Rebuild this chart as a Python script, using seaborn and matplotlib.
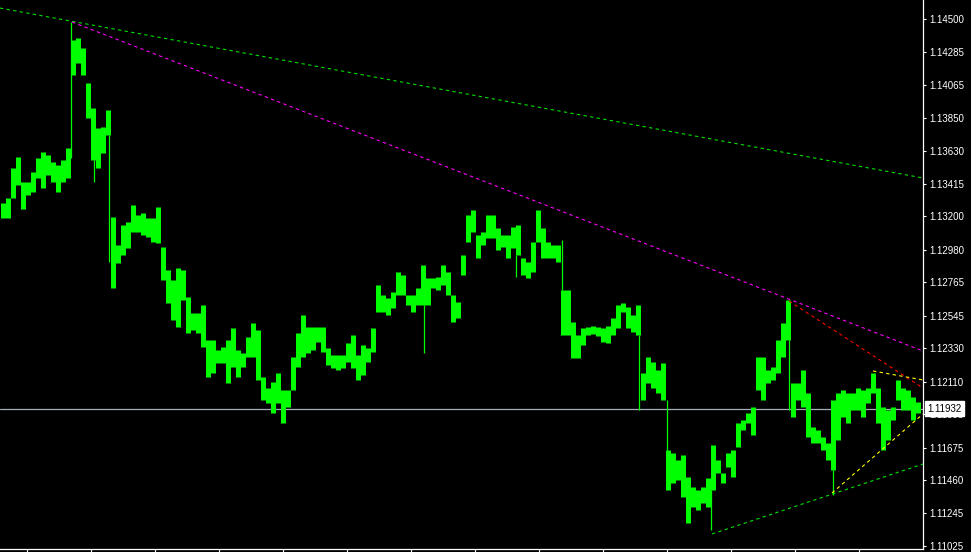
import matplotlib

matplotlib.use("Agg")
import matplotlib.pyplot as plt
import matplotlib.transforms as mtransforms
import numpy as np
import pandas as pd
import seaborn as sns

FONTSIZE = 7
PRICE_GREEN = "#00FF00"

# high / low of each bar (one bar per ~5 px)
bar_high = [
    1.13287, 1.13320, 1.13518, 1.13590, 1.13426, 1.13426, 1.13492, 1.13584, 1.13623, 1.13604,
    1.13557, 1.13538, 1.13571, 1.13650, 1.14361, 1.14375, 1.14309, 1.14078, 1.13913, 1.13781,
    1.13788, 1.13900, 1.13195, 1.13010, 1.13142, 1.13162, 1.13274, 1.13208, 1.13221, 1.13188,
    1.13188, 1.13261, 1.12997, 1.12846, 1.12780, 1.12859, 1.12846, 1.12668, 1.12562, 1.12562,
    1.12615, 1.12384, 1.12384, 1.12318, 1.12338, 1.12384, 1.12463, 1.12318, 1.12299, 1.12404,
    1.12496, 1.12450, 1.12141, 1.12068, 1.12108, 1.12167, 1.12055, 1.12055, 1.12272, 1.12431,
    1.12549, 1.12470, 1.12470, 1.12470, 1.12470, 1.12332, 1.12286, 1.12286, 1.12286, 1.12365,
    1.12417, 1.12286, 1.12351, 1.12332, 1.12463, 1.12747, 1.12681, 1.12661, 1.12701, 1.12833,
    1.12813, 1.12681, 1.12681, 1.12727, 1.12879, 1.12793, 1.12793, 1.12800, 1.12879, 1.12833,
    1.12681, 1.12635, 1.12945, 1.13208, 1.13241, 1.13076, 1.13096, 1.13208, 1.13208, 1.13122,
    1.13076, 1.13076, 1.13129, 1.13142, 1.12925, 1.12898, 1.13030, 1.13241, 1.13122, 1.13030,
    1.13010, 1.13010, 1.12714, 1.12714, 1.12503, 1.12417, 1.12463, 1.12470, 1.12477, 1.12470,
    1.12463, 1.12477, 1.12529, 1.12615, 1.12628, 1.12602, 1.12549, 1.12615, 1.12167, 1.12272,
    1.12239, 1.12187, 1.12233, 1.11659, 1.11640, 1.11594, 1.11627, 1.11482, 1.11416, 1.11396,
    1.11416, 1.11475, 1.11692, 1.11594, 1.11508, 1.11640, 1.11659, 1.11837, 1.11857, 1.11903,
    1.11943, 1.12272, 1.12272, 1.12187, 1.12206, 1.12384, 1.12496, 1.12648, 1.12101, 1.12101,
    1.12187, 1.12035, 1.11811, 1.11791, 1.11745, 1.11706, 1.11989, 1.12035, 1.12055, 1.12035,
    1.12035, 1.12068, 1.12055, 1.12068, 1.12167, 1.12068, 1.11943, 1.11923, 1.11943, 1.12121,
    1.12068, 1.12055, 1.12009, 1.11976,
]
bar_low = [
    1.13188, 1.13188, 1.13320, 1.13406, 1.13248, 1.13340, 1.13360, 1.13452, 1.13386, 1.13472,
    1.13426, 1.13360, 1.13426, 1.13452, 1.14131, 1.14210, 1.14131, 1.13847, 1.13571, 1.13518,
    1.13617, 1.13735, 1.12727, 1.12892, 1.12945, 1.12991, 1.13096, 1.13096, 1.13076, 1.13063,
    1.13030, 1.13024, 1.12780, 1.12628, 1.12516, 1.12470, 1.12648, 1.12431, 1.12450, 1.12431,
    1.12338, 1.12141, 1.12167, 1.12233, 1.12233, 1.12101, 1.12206, 1.12141, 1.12206, 1.12272,
    1.12272, 1.12121, 1.11989, 1.11969, 1.11903, 1.11969, 1.11837, 1.11943, 1.12055, 1.12206,
    1.12272, 1.12299, 1.12318, 1.12371, 1.12305, 1.12220, 1.12200, 1.12187, 1.12200, 1.12239,
    1.12200, 1.12121, 1.12154, 1.12239, 1.12305, 1.12569, 1.12569, 1.12549, 1.12595, 1.12681,
    1.12681, 1.12615, 1.12569, 1.12615, 1.12615, 1.12615, 1.12727, 1.12714, 1.12747, 1.12681,
    1.12503, 1.12529, 1.12813, 1.13030, 1.13096, 1.12925, 1.13010, 1.13057, 1.13057, 1.12977,
    1.12997, 1.12925, 1.12991, 1.12945, 1.12813, 1.12793, 1.12833, 1.13030, 1.12925, 1.12925,
    1.12925, 1.12898, 1.12417, 1.12417, 1.12266, 1.12266, 1.12351, 1.12417, 1.12424, 1.12411,
    1.12371, 1.12365, 1.12417, 1.12463, 1.12569, 1.12463, 1.12437, 1.12417, 1.11989, 1.12101,
    1.12068, 1.12035, 1.11989, 1.11396, 1.11442, 1.11462, 1.11350, 1.11178, 1.11284, 1.11264,
    1.11310, 1.11284, 1.11396, 1.11508, 1.11442, 1.11547, 1.11482, 1.11679, 1.11791, 1.11837,
    1.11758, 1.12055, 1.11989, 1.12101, 1.12121, 1.12167, 1.12272, 1.12384, 1.11877, 1.11989,
    1.11943, 1.11745, 1.11706, 1.11706, 1.11659, 1.11594, 1.11528, 1.11725, 1.11877, 1.11837,
    1.11923, 1.11923, 1.11877, 1.11969, 1.12035, 1.11837, 1.11659, 1.11725, 1.11857, 1.11989,
    1.11923, 1.11923, 1.11857, 1.11903,
]

# single thin bars (gaps / wicks) inside a bar slot
spike_bar = [13.7, 18.3, 21.2, 84.3, 102.7, 111.9, 127.3, 132.9, 141.7, 157.3, 166.1]
spike_top = [1.14480, 1.13571, 1.13735, 1.12615, 1.12945, 1.13043, 1.12417, 1.11989,
             1.11396, 1.12384, 1.11528]
spike_bottom = [1.13584, 1.13426, 1.12898, 1.12299, 1.12800, 1.12714, 1.11923, 1.11659,
                1.11132, 1.11923, 1.11363]

# trend lines drawn on the chart
trend_names = ["long_top", "upper", "wedge_top", "flag_top", "flag_bottom", "long_bottom"]
trend_colors = ["#00E000", "#FF00FF", "#FF0000", "#FFFF00", "#FFFF00", "#00E000"]
trend_start_bar = [-0.5, 13.9, 157.3, 174.1, 165.9, 141.9]
trend_end_bar = [184.1, 184.1, 184.1, 184.1, 184.1, 184.1]
trend_start_price = [1.14572, 1.14480, 1.12641, 1.12180, 1.11376, 1.11106]
trend_end_price = [1.13452, 1.12312, 1.12068, 1.12121, 1.11897, 1.11567]

price_ticks = [
    1.14500, 1.14285, 1.14065, 1.13850, 1.13630, 1.13415, 1.13200, 1.12980, 1.12765,
    1.12545, 1.12330, 1.12110, 1.11895, 1.11675, 1.11460, 1.11245, 1.11025,
]
time_ticks = [4.9, 17.7, 30.5, 43.3, 56.1, 68.9, 81.7, 94.5, 107.3, 120.1, 132.9,
              145.7, 158.5, 171.3]
last_price = 1.11932


sns.set_theme(style="dark", rc={"axes.facecolor": "black", "figure.facecolor": "black"})
plt.rcParams["font.family"] = ["Liberation Sans", "DejaVu Sans"]

fig = plt.figure(figsize=(9.71, 5.52), dpi=100)
ax = fig.add_axes([0, 3 / 552, 923 / 971, 549 / 552])
ax.set_facecolor("black")

bars = np.arange(len(bar_high))
ax.axhline(last_price, color="#A3ACBA", lw=0.9, zorder=1)
ax.vlines(bars, bar_low, bar_high, colors=PRICE_GREEN, linewidth=3.6, zorder=2)
ax.vlines(spike_bar, spike_bottom, spike_top, colors=PRICE_GREEN, linewidth=0.9, zorder=2)

trends = pd.DataFrame({
    "bar": trend_start_bar + trend_end_bar,
    "price": trend_start_price + trend_end_price,
    "line": trend_names + trend_names,
})
sns.lineplot(
    data=trends,
    x="bar",
    y="price",
    hue="line",
    style="line",
    palette=dict(zip(trend_names, trend_colors)),
    dashes={name: (3, 3) for name in trend_names},
    linewidth=0.8,
    legend=False,
    ax=ax,
    zorder=3,
)

ax.set_xlim(-0.5, 184.1)
ax.set_ylim(1.11007, 1.14625)
ax.set_xlabel("")
ax.set_ylabel("")
ax.grid(False)

for side in ("left", "top"):
    ax.spines[side].set_visible(False)
for side in ("right", "bottom"):
    ax.spines[side].set_visible(True)
    ax.spines[side].set_color("white")
    ax.spines[side].set_linewidth(0.9)

ax.yaxis.tick_right()
ax.set_yticks(price_ticks)
ax.set_yticklabels([f"{p:.5f}" for p in price_ticks])
ax.set_xticks(time_ticks)
ax.set_xticklabels([])
ax.tick_params(axis="y", direction="out", length=2.5, width=0.8, colors="white",
               labelsize=FONTSIZE, pad=2, right=True, left=False)
ax.tick_params(axis="x", direction="out", length=2.5, width=0.8, colors="white",
               bottom=True)

trans = mtransforms.blended_transform_factory(ax.transAxes, ax.transData)
ax.text(1.0045, last_price, f"{last_price:.5f}", transform=trans, ha="left", va="center",
        fontsize=FONTSIZE, color="black", clip_on=False, zorder=10,
        bbox=dict(boxstyle="square,pad=0.25", fc="white", ec="white"))

fig.savefig("out.png", dpi=100, facecolor="black")
